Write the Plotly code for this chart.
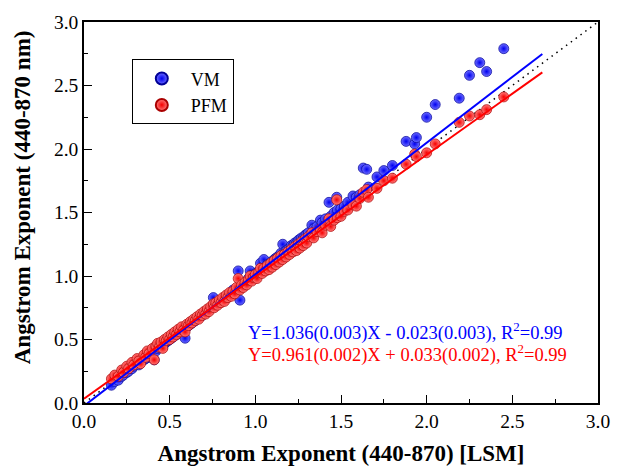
import plotly.graph_objects as go

# LSM Angstrom exponent (x) and the two method estimates (y)
x_lsm = [0.16, 0.18, 0.20, 0.22, 0.23, 0.25, 0.26, 0.28, 0.29, 0.31,
         0.32, 0.33, 0.35, 0.36, 0.37, 0.38, 0.40, 0.41, 0.42, 0.43,
         0.44, 0.45, 0.46, 0.47, 0.48, 0.49, 0.50, 0.51, 0.52, 0.53,
         0.54, 0.55, 0.56, 0.57, 0.58, 0.59, 0.60, 0.61, 0.62, 0.63,
         0.64, 0.65, 0.66, 0.67, 0.68, 0.69, 0.70, 0.71, 0.72, 0.73,
         0.74, 0.755, 0.76, 0.77, 0.78, 0.79, 0.80, 0.81, 0.82, 0.83,
         0.84, 0.85, 0.86, 0.87, 0.88, 0.89, 0.90, 0.91, 0.92, 0.93,
         0.94, 0.95, 0.96, 0.97, 0.98, 0.99, 1.00, 1.01, 1.02, 1.03,
         1.04, 1.05, 1.06, 1.07, 1.08, 1.09, 1.10, 1.11, 1.12, 1.13,
         1.14, 1.15, 1.16, 1.17, 1.18, 1.19, 1.20, 1.21, 1.22, 1.23,
         1.24, 1.25, 1.26, 1.27, 1.28, 1.29, 1.30, 1.31, 1.33, 1.34,
         1.36, 1.38, 1.39, 1.41, 1.43, 1.44, 1.46, 1.475, 1.48, 1.50,
         1.52, 1.54, 1.57, 1.59, 1.61, 1.63, 1.65, 1.66, 1.71, 1.75,
         1.80, 1.88, 1.93, 1.94, 2.00, 2.05, 2.19, 2.25, 2.31, 2.35,
         2.45]

y_vm = [0.14, 0.17, 0.18, 0.21, 0.22, 0.24, 0.25, 0.27, 0.29, 0.31,
        0.30, 0.32, 0.34, 0.35, 0.37, 0.36, 0.40, 0.34, 0.41, 0.43,
        0.44, 0.45, 0.44, 0.47, 0.48, 0.49, 0.50, 0.51, 0.52, 0.53,
        0.54, 0.55, 0.56, 0.57, 0.58, 0.51, 0.60, 0.61, 0.62, 0.63,
        0.64, 0.65, 0.67, 0.67, 0.68, 0.69, 0.71, 0.71, 0.73, 0.73,
        0.75, 0.83, 0.76, 0.78, 0.78, 0.80, 0.80, 0.82, 0.83, 0.84,
        0.85, 0.86, 0.86, 0.89, 0.88, 0.90, 1.04, 0.81, 0.93, 0.94,
        0.95, 0.96, 0.98, 1.04, 0.99, 1.00, 1.02, 1.02, 1.04, 1.10,
        1.05, 1.13, 1.07, 1.09, 1.09, 1.11, 1.11, 1.13, 1.14, 1.15,
        1.16, 1.18, 1.25, 1.19, 1.20, 1.21, 1.22, 1.24, 1.24, 1.26,
        1.26, 1.28, 1.29, 1.30, 1.30, 1.32, 1.33, 1.34, 1.40, 1.37,
        1.39, 1.44, 1.42, 1.45, 1.58, 1.47, 1.50, 1.62, 1.52, 1.53,
        1.55, 1.58, 1.63, 1.62, 1.64, 1.85, 1.84, 1.70, 1.78, 1.83,
        1.87, 2.06, 2.04, 2.09, 2.25, 2.35, 2.40, 2.58, 2.68, 2.61,
        2.79]

y_pfm = [0.19, 0.22, 0.21, 0.26, 0.24, 0.29, 0.27, 0.32, 0.30, 0.35,
         0.33, 0.31, 0.38, 0.36, 0.41, 0.39, 0.43, 0.34, 0.45, 0.47,
         0.44, 0.48, 0.43, 0.50, 0.49, 0.52, 0.50, 0.54, 0.52, 0.56,
         0.54, 0.58, 0.56, 0.60, 0.57, 0.56, 0.62, 0.61, 0.64, 0.63,
         0.66, 0.65, 0.68, 0.66, 0.70, 0.69, 0.72, 0.70, 0.74, 0.72,
         0.76, 0.78, 0.75, 0.79, 0.77, 0.81, 0.79, 0.83, 0.80, 0.85,
         0.83, 0.87, 0.84, 0.88, 0.86, 0.91, 0.98, 0.89, 0.93, 0.91,
         0.95, 0.93, 0.97, 1.00, 0.96, 0.99, 1.01, 0.98, 1.03, 1.06,
         1.02, 1.06, 1.04, 1.08, 1.05, 1.10, 1.07, 1.12, 1.09, 1.14,
         1.11, 1.16, 1.13, 1.17, 1.15, 1.19, 1.17, 1.21, 1.19, 1.23,
         1.20, 1.25, 1.22, 1.27, 1.24, 1.29, 1.26, 1.31, 1.34, 1.30,
         1.35, 1.37, 1.34, 1.40, 1.45, 1.39, 1.44, 1.60, 1.46, 1.47,
         1.51, 1.52, 1.56, 1.55, 1.61, 1.66, 1.68, 1.62, 1.69, 1.75,
         1.77, 1.88, 1.96, 1.94, 1.97, 2.04, 2.21, 2.26, 2.27, 2.31,
         2.41]

# Linear fit coefficients (from the chart annotations)
vm_slope, vm_icpt = 1.036, -0.023
pfm_slope, pfm_icpt = 0.961, 0.033
fit_x = [0.0, 2.675]
one_to_one = [0.0, 3.0]

eq_vm = "Y=1.036(0.003)X - 0.023(0.003), R<sup>2</sup>=0.99"
eq_pfm = "Y=0.961(0.002)X + 0.033(0.002), R<sup>2</sup>=0.99"
x_title = "<b>Angstrom Exponent (440-870) [LSM]</b>"
y_title = "<b>Angstrom Exponent (440-870 nm)</b>"

FONT = "Times New Roman, Liberation Serif, serif"

fig = go.Figure()

fig.add_trace(go.Scatter(x=one_to_one, y=one_to_one, mode="lines",
                         line=dict(color="black", width=1.5, dash="1.5px,4.5px"),
                         showlegend=False, hoverinfo="skip"))

fig.add_trace(go.Scatter(x=x_lsm, y=y_vm, mode="markers", name="VM",
                         marker=dict(size=10, color="rgb(110,110,255)",
                                     gradient=dict(type="radial", color="rgb(0,0,240)"),
                                     line=dict(width=0.7, color="rgb(0,0,150)"))))
fig.add_trace(go.Scatter(x=x_lsm, y=y_pfm, mode="markers", name="PFM",
                         marker=dict(size=10, color="rgb(255,125,125)",
                                     gradient=dict(type="radial", color="rgb(245,0,0)"),
                                     line=dict(width=0.7, color="rgb(170,0,0)"))))

fig.add_trace(go.Scatter(x=fit_x, y=[vm_slope * v + vm_icpt for v in fit_x], mode="lines",
                         line=dict(color="blue", width=2), showlegend=False, hoverinfo="skip"))
fig.add_trace(go.Scatter(x=fit_x, y=[pfm_slope * v + pfm_icpt for v in fit_x], mode="lines",
                         line=dict(color="red", width=2), showlegend=False, hoverinfo="skip"))

fig.add_annotation(x=0.945, y=0.56, xref="x", yref="y", text=eq_vm, showarrow=False,
                   xanchor="left", font=dict(family=FONT, size=18.5, color="blue"))
fig.add_annotation(x=0.945, y=0.39, xref="x", yref="y", text=eq_pfm, showarrow=False,
                   xanchor="left", font=dict(family=FONT, size=18.5, color="red"))

# y-axis title (placed as in the reference, slightly above the axis centre)
fig.add_annotation(x=-0.1206, y=0.54, xref="paper", yref="paper", text=y_title,
                   showarrow=False, textangle=-90, xanchor="center", yanchor="middle",
                   font=dict(family=FONT, size=23, color="black"))

axis_common = dict(range=[0, 3], dtick=0.5, tickformat=".1f", showgrid=False, zeroline=False,
                   showline=True, linecolor="black", linewidth=1.5, mirror=True,
                   automargin=False,
                   ticks="inside", ticklen=8, tickwidth=1.3, tickcolor="black",
                   minor=dict(ticks="inside", ticklen=4, tickwidth=1.2, tickcolor="black", dtick=0.25),
                   tickfont=dict(family=FONT, size=19.5, color="black"))

fig.update_xaxes(**axis_common,
                 title=dict(text=x_title, standoff=14,
                            font=dict(family=FONT, size=23, color="black")))
fig.update_yaxes(**axis_common)

# the page body adds an 8px offset, so margins are shifted to keep the plot box in place
fig.update_layout(width=620, height=468, plot_bgcolor="white", paper_bgcolor="white",
                  margin=dict(l=76, r=30, t=14, b=73),
                  legend=dict(x=0.093, y=0.902, xanchor="left", yanchor="top",
                              bordercolor="black", borderwidth=1, bgcolor="white",
                              font=dict(family=FONT, size=18, color="black"),
                              itemsizing="constant", itemwidth=48))

fig.write_html("out.html")
